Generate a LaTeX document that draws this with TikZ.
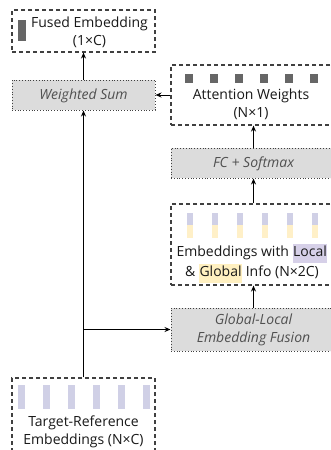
\documentclass[tikz,border=0pt]{standalone}
\usepackage{fontspec}
\setmainfont{Open Sans}
\usetikzlibrary{arrows.meta}
\definecolor{bord}{HTML}{404040}
\definecolor{procfill}{HTML}{DCDCDC}
\definecolor{proctext}{HTML}{505050}
\definecolor{sqc}{HTML}{666666}
\definecolor{purp}{HTML}{D0D0E6}
\definecolor{yell}{HTML}{FFF0C8}
\definecolor{hlp}{HTML}{D6D0E8}
\definecolor{hly}{HTML}{FFF0C0}
\tikzset{
  databox/.style={draw=bord, line width=1.1pt, dash pattern=on 4pt off 3pt, minimum width=#1, inner sep=0pt},
  procbox/.style={draw=bord, fill=procfill, line width=1pt, dash pattern=on 0.8pt off 2pt, minimum width=#1, inner sep=0pt},
  txt/.style={font=\fontsize{14}{18}\selectfont, align=center, inner sep=0pt, text=black!90},
  ptxt/.style={font=\fontsize{14}{18}\selectfont\itshape, align=center, inner sep=0pt, text=proctext},
  arr/.style={-{Stealth[length=6pt,width=5pt]}, line width=1pt, black},
}
\begin{document}
\begin{tikzpicture}[x=1pt,y=-1pt]
\useasboundingbox (0,0) rectangle (330,450);
\fill[white] (0,0) rectangle (330,450);
% boxes
\node[databox=143, minimum height=42] (fused) at (83.5,31) {};
\node[procbox=143, minimum height=30] (wsum) at (83.5,95) {};
\node[databox=165, minimum height=60] (attn) at (253.5,95) {};
\node[procbox=165, minimum height=30] (fc) at (253.5,163) {};
\node[databox=165, minimum height=81] (emb) at (253.5,244.5) {};
\node[procbox=165, minimum height=43] (fusion) at (253.5,329.5) {};
\node[databox=143, minimum height=92] (target) at (83.5,424) {};
% fused contents
\fill[sqc] (18,20) rectangle (25.5,41);
\node[txt] (fusedt) at (89.5,32.5) {Fused Embedding\\(1×C)};
% weighted sum
\node[ptxt] (wsumt) at (83.5,95.5) {Weighted Sum};
% attention
\foreach \i in {0,...,5} {\fill[sqc] (184.5+25*\i,74) rectangle (193+25*\i,82.5);}
\node[txt] (attnt) at (251,104.5) {Attention Weights\\(N×1)};
% fc
\node[ptxt] (fct) at (253.5,163.5) {FC + Softmax};
% embeddings
\foreach \i in {0,...,5} {
  \fill[purp] (187+25*\i,213) rectangle (192.5+25*\i,225);
  \fill[yell] (187+25*\i,225) rectangle (192.5+25*\i,238);
}
\node[txt] (embt) at (252,263) {Embeddings with {\setlength{\fboxsep}{0.5pt}\colorbox{hlp}{\strut Local}}\\\& {\setlength{\fboxsep}{0.5pt}\colorbox{hly}{\strut Global}} Info (N×2C)};
% fusion
\node[ptxt] (fusiont) at (253.5,329.5) {Global-Local\\Embedding Fusion};
% target
\foreach \i in {0,...,5} {\fill[purp] (18+25*\i,385) rectangle (24.5+25*\i,409);}
\node[txt] (targett) at (83.5,432) {Target-Reference\\Embeddings (N×C)};
% connectors
\coordinate (br) at (83.5,329.5);
\draw[arr] (wsum.north) -- (fused.south);
\draw[arr] (attn.west) -- (wsum.east);
\draw[arr] (fc.north) -- (attn.south);
\draw[arr] (emb.north) -- (fc.south);
\draw[arr] (fusion.north) -- (emb.south);
\draw[arr] (target.north) -- (wsum.south);
\draw[arr] (br) -- (fusion.west);
\end{tikzpicture}
\end{document}
